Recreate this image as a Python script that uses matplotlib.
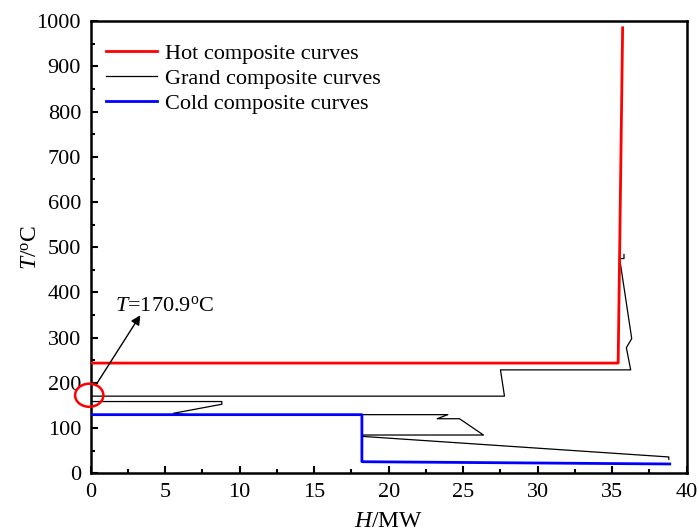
import matplotlib
matplotlib.use("Agg")
import matplotlib.pyplot as plt
from matplotlib.patches import Ellipse
from matplotlib.ticker import MultipleLocator

plt.rcParams['font.family'] = ['Liberation Serif', 'DejaVu Serif']
plt.rcParams['mathtext.fontset'] = 'custom'
plt.rcParams['mathtext.rm'] = 'Liberation Serif'
plt.rcParams['mathtext.it'] = 'Liberation Serif:italic'

# Hot composite curve
hot_H = [0.0, 35.4, 35.7]
hot_T = [244, 244, 985]

# Cold composite curve
cold_H = [0.0, 18.2, 18.2, 38.86]
cold_T = [130, 130, 26, 21]

# Grand composite curve
gcc_H = [35.79, 35.79, 35.5, 36.31, 35.95, 36.24, 27.5, 27.77, 0.0, 0.0, 8.8, 8.8,
         5.55, 6.5, 23.97, 23.25, 24.75, 26.36, 18.21, 18.21, 38.8, 38.8]
gcc_T = [484, 475, 475, 298, 278, 229, 229, 170.9, 170.9, 159, 159, 153,
         133, 130, 130, 121, 121, 85, 85, 82, 36.5, 31]

pinch_T = 170.9

fig = plt.figure(figsize=(6.99, 5.32), dpi=100)
ax = fig.add_axes([0.1298, 0.11, 0.8526, 0.8505])

ax.plot(hot_H, hot_T, color='#ff0000', lw=2.0, label='Hot composite curves', zorder=3)
ax.plot(gcc_H, gcc_T, color='black', lw=0.9, label='Grand composite curves', zorder=2)
ax.plot(cold_H, cold_T, color='#0000ff', lw=2.0, label='Cold composite curves', zorder=3)

ax.set_xlim(0, 40)
ax.set_ylim(0, 1000)
ax.xaxis.set_major_locator(MultipleLocator(5))
ax.xaxis.set_minor_locator(MultipleLocator(2.5))
ax.yaxis.set_major_locator(MultipleLocator(100))
ax.yaxis.set_minor_locator(MultipleLocator(50))
ax.tick_params(which='both', direction='in', top=False, right=False, labelsize=16, width=1.5)
ax.tick_params(which='major', length=5, pad=7)
ax.tick_params(which='minor', length=3)
for s in ax.spines.values():
    s.set_linewidth(1.8)

ax.set_xlabel(r'$H$/MW', fontsize=17, labelpad=6)
ax.set_ylabel(r'$T$/$^{\rm o}$C', fontsize=17)
ax.yaxis.set_label_coords(-0.083, 0.5)

leg = ax.legend(loc='upper left', frameon=False, fontsize=16, handlelength=2.3,
                handletextpad=0.35, labelspacing=0.2, borderaxespad=0.3,
                bbox_to_anchor=(0.0, 0.985))

ell = Ellipse((-0.1, pinch_T + 2), width=1.9, height=51, fill=False, edgecolor='#ff0000',
              lw=1.8, clip_on=False, zorder=5)
ax.add_patch(ell)

ax.annotate('', xy=(3.43, 355), xytext=(0.22, 189),
            arrowprops=dict(arrowstyle='-|>', color='black', lw=1.0, mutation_scale=14),
            annotation_clip=False)
ax.text(1.64, 370, r'$T$=170.9$^{\rm o}$C', fontsize=16, va='center', ha='left')

fig.savefig('out.png', dpi=100)
